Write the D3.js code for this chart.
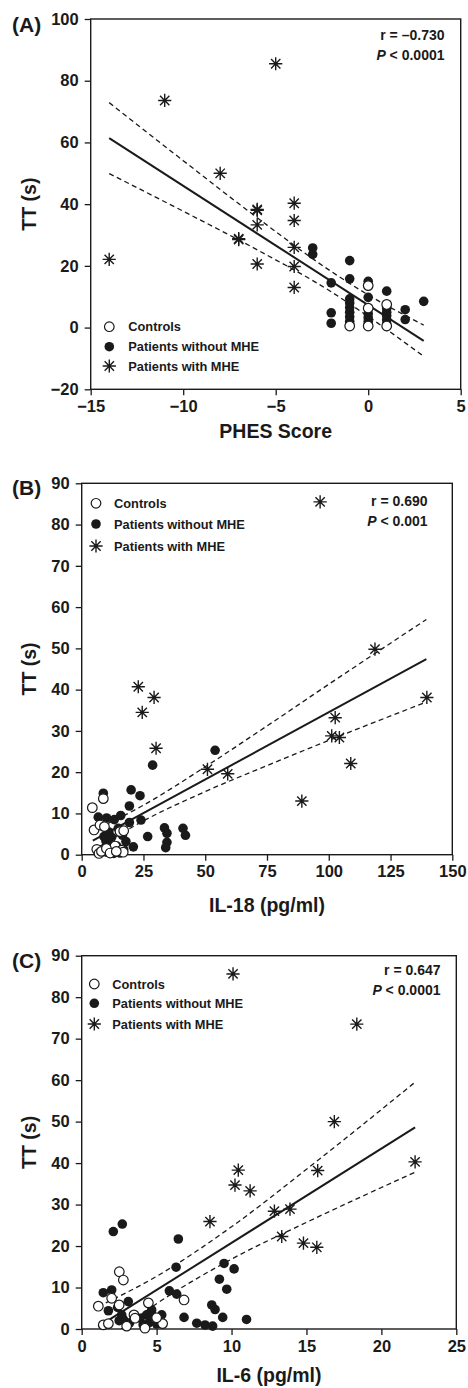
<!DOCTYPE html>
<html><head><meta charset="utf-8">
<script src="https://cdn.jsdelivr.net/npm/d3@7"></script>
<style>
html,body{margin:0;padding:0;background:#fff;}
svg text{font-family:"Liberation Sans",Arial,Helvetica,sans-serif;font-weight:bold;fill:#1a1a1a;}
</style></head>
<body>
<script>
// ---------- DATA ----------
// Panel A: PHES score vs TT (s)
const aCtrlX = [0,0,0,1,1,-1];
const aCtrlY = [13.6,6.3,0.5,7.5,0.5,0.5];
const aNoX = [-3,-3,-2,-2,-2,-1,-1,-1,-1,-1,-1,-1,-1,-1,0,0,0,0,0,0,1,1,1,1,1,1,1,2,2,3];
const aNoY = [25.8,23.7,14.5,4.8,1.4,21.7,15.8,9.3,8,6.5,5,3.5,2,1,15,9.8,4.5,3.2,2,1,11.8,6.2,5,3.8,2.5,1.2,0.4,5.8,2.6,8.5];
const aMheX = [-14,-11,-8,-5,-7,-7,-6,-6,-6,-6,-4,-4,-4,-4,-4];
const aMheY = [22.1,73.6,50,85.5,28.5,28.8,38.3,38.0,33.3,20.6,40.3,34.7,26,19.8,13];
const aFitX = [-14,3];
const aFitY = [61.4,-4.3];
const aBandX = [-14,-10,-6,-2,0,3];
const aUpperY = [72.9,54.1,35.6,18.2,10.6,0.8];
const aLowerY = [49.9,37.7,25.2,11.6,3.6,-9.3];
const aXTicks = [-15,-10,-5,0,5];
const aYTicks = [-20,0,20,40,60,80,100];

// Panel B: IL-18 (pg/ml) vs TT (s)
const bCtrlX = [8.75,4.3,5,7.4,9.2,6.1,7,13.5,16.2,15.5,16.8,8,10,11.5,14,17];
const bCtrlY = [13.6,11.4,6,7.2,6.8,1.3,0.3,2.1,1.1,5.6,0.6,0.8,1.5,0.4,0.8,5.8];
const bNoX = [54,28.7,20,23.6,8.75,19.3,6.7,10.1,13.2,15.8,24,19.3,26.7,33.5,34.5,34.5,34,41,42,15.5,9,10.1,11.5,12.8,14.2,15.5,17.9,20.9,9.8,12.1,14.8,10,13,17,11,16.5];
const bNoY = [25.3,21.7,15.7,14.3,14.9,11.8,9.1,8.9,8.5,9.5,8.4,7.8,4.4,6.5,5.2,3,1.7,6.4,4.7,6,4.4,1.6,2.8,1.1,2.1,0.4,3.2,1.9,3.3,4.2,6.4,0.6,0.3,1.2,5.5,4.7];
const bMheX = [96.5,118.7,22.9,29.3,24.5,30.1,50.9,59.1,102.6,101.2,104.3,108.9,89.1,139.7];
const bMheY = [85.5,49.8,40.7,38.1,34.5,25.8,20.7,19.6,33.2,28.8,28.4,22.1,13.0,38.1];
const bFitX = [4.5,139.5];
const bFitY = [3.4,47.4];
const bBandX = [4.5,25,50,75,100,139.5];
const bUpperY = [5.8,12.0,21.3,31.2,41.3,57.0];
const bLowerY = [1.0,8.2,15.3,21.6,27.7,37.0];
const bXTicks = [0,25,50,75,100,125,150];
const bYTicks = [0,10,20,30,40,50,60,70,80,90];

// Panel C: IL-6 (pg/ml) vs TT (s)
const cCtrlX = [2.51,2.78,1.11,2.0,6.83,4.45,3.49,3.56,1.44,1.78,3.0,4.22,5.4,5.0,2.5];
const cCtrlY = [13.8,11.8,5.5,7.4,7.0,6.3,3.4,2.6,1.0,1.3,0.7,0.2,1.3,2.7,5.8];
const cNoX = [2.11,2.71,6.45,6.3,9.5,10.17,9.19,9.68,5.85,6.34,8.68,8.9,9.41,11.0,6.83,7.68,8.23,8.74,1.44,2.0,1.78,3.11,2.4,4.67,4.34,5.34,4.45,2.67,2.78,3.9,4.1,4.8,3.2,2.5,5.0];
const cNoY = [23.5,25.3,21.7,14.9,15.8,14.5,12.0,9.6,9.2,8.4,5.8,4.7,2.8,2.3,2.8,1.4,0.96,0.7,8.75,9.4,4.4,6.6,5.2,4.6,3.4,3.4,1.4,3.4,2.3,2.6,1.0,3.0,1.5,2.0,1.2];
const cMheX = [10.1,18.36,16.86,22.25,10.45,10.23,11.24,15.75,12.86,13.9,8.56,13.35,14.8,15.69];
const cMheY = [85.6,73.5,50,40.3,38.3,34.7,33.3,38.2,28.4,28.9,25.9,22.3,20.7,19.7];
const cFitX = [1.1,22.25];
const cFitY = [0.55,48.6];
const cBandX = [1.1,5,10,15,22.25];
const cUpperY = [5.4,12.7,24.65,38.5,59.5];
const cLowerY = [-4.3,6.1,16.85,25.7,37.8];
const cXTicks = [0,5,10,15,20,25];
const cYTicks = [0,10,20,30,40,50,60,70,80,90];

const legendLabels = ["Controls","Patients without MHE","Patients with MHE"];

// ---------- DRAW ----------
const svg = d3.select("body").append("svg").attr("width",468).attr("height",1388);
const INK = "#1a1a1a";
const starPath = (s) => { const d = s*0.707;
  return `M0,${-s}L0,${s}M${-s},0L${s},0M${-d},${-d}L${d},${d}M${-d},${d}L${d},${-d}`; };
const R = 4.8, STAR = 6.6;

function zip(xs, ys){ return xs.map((v,i)=>[v, ys[i]]); }

function panel(cfg, idx){
  const {box} = cfg;
  const x = d3.scaleLinear().domain(cfg.xDomain).range([box.l, box.r]);
  const y = d3.scaleLinear().domain(cfg.yDomain).range([box.b, box.t]);
  const g = svg.append("g");
  const clipId = "clip"+idx;
  svg.append("clipPath").attr("id",clipId).append("rect")
    .attr("x",box.l).attr("y",box.t).attr("width",box.r-box.l).attr("height",box.b-box.t);

  // axes
  const fmt = d3.format("d");
  const xa = g.append("g").attr("transform",`translate(0,${box.b})`)
    .call(d3.axisBottom(x).tickValues(cfg.xTicks).tickFormat(fmt).tickSize(6).tickPadding(5));
  const ya = g.append("g").attr("transform",`translate(${box.l},0)`)
    .call(d3.axisLeft(y).tickValues(cfg.yTicks).tickFormat(fmt).tickSize(6).tickPadding(6));
  [xa,ya].forEach(a=>{
    a.select(".domain").remove();
    a.selectAll(".tick line").attr("stroke",INK).attr("stroke-width",1.3);
    a.selectAll(".tick text").attr("font-size",16.5).attr("fill",INK)
      .style("font-family","'Liberation Sans',Arial,sans-serif").style("font-weight","bold");
  });
  g.append("rect").attr("x",box.l).attr("y",box.t).attr("width",box.r-box.l).attr("height",box.b-box.t)
    .attr("fill","none").attr("stroke",INK).attr("stroke-width",1.4);

  // labels
  g.append("text").attr("x",12).attr("y",cfg.labelY).attr("font-size",21).text(cfg.label);
  g.append("text").attr("x",(box.l+box.r)/2).attr("y",cfg.xTitleY).attr("text-anchor","middle")
    .attr("font-size",19.5).text(cfg.xTitle);
  g.append("text").attr("transform",`translate(36,${(box.t+box.b)/2}) rotate(-90)`)
    .attr("text-anchor","middle").attr("font-size",19.5).text("TT (s)");

  // fit and bands
  const pg = g.append("g").attr("clip-path",`url(#${clipId})`);
  const line = d3.line().x(d=>x(d[0])).y(d=>y(d[1]));
  const curve = d3.line().x(d=>x(d[0])).y(d=>y(d[1])).curve(d3.curveMonotoneX);
  pg.append("path").attr("d",line(zip(cfg.fitX,cfg.fitY))).attr("fill","none").attr("stroke",INK).attr("stroke-width",2);
  [cfg.upperY,cfg.lowerY].forEach(ys=>{
    pg.append("path").attr("d",curve(zip(cfg.bandX,ys))).attr("fill","none").attr("stroke",INK)
      .attr("stroke-width",1.3).attr("stroke-dasharray","5,3.5");
  });

  // points
  g.append("g").selectAll("circle").data(zip(cfg.noX,cfg.noY)).join("circle")
    .attr("cx",d=>x(d[0])).attr("cy",d=>y(d[1])).attr("r",R).attr("fill",INK);
  g.append("g").selectAll("circle").data(zip(cfg.ctrlX,cfg.ctrlY)).join("circle")
    .attr("cx",d=>x(d[0])).attr("cy",d=>y(d[1])).attr("r",R).attr("fill","#fff").attr("stroke",INK).attr("stroke-width",1.2);
  g.append("g").selectAll("path").data(zip(cfg.mheX,cfg.mheY)).join("path")
    .attr("transform",d=>`translate(${x(d[0])},${y(d[1])})`).attr("d",starPath(STAR))
    .attr("fill","none").attr("stroke",INK).attr("stroke-width",1.4);

  // legend
  const L = cfg.legend;
  g.append("circle").attr("cx",L.sx).attr("cy",L.rows[0]).attr("r",R).attr("fill","#fff").attr("stroke",INK).attr("stroke-width",1.2);
  g.append("circle").attr("cx",L.sx).attr("cy",L.rows[1]).attr("r",R).attr("fill",INK);
  g.append("path").attr("transform",`translate(${L.sx},${L.rows[2]})`).attr("d",starPath(STAR))
    .attr("fill","none").attr("stroke",INK).attr("stroke-width",1.4);
  legendLabels.forEach((t,i)=>{
    g.append("text").attr("x",L.tx).attr("y",L.rows[i]+4.6).attr("font-size",12.8).text(t);
  });

  // stats
  const S = cfg.stats;
  g.append("text").attr("x",S.x).attr("y",S.y1).attr("text-anchor","end").attr("font-size",14).text(cfg.rText);
  const p = g.append("text").attr("x",S.x).attr("y",S.y2).attr("text-anchor","end").attr("font-size",14);
  p.append("tspan").attr("font-style","italic").text("P");
  p.append("tspan").text(" < " + cfg.pText);
}

panel({box:{l:90.7,r:460.7,t:19,b:389.3}, xDomain:[-15,5], yDomain:[-20,100],
  xTicks:aXTicks, yTicks:aYTicks, label:"(A)", labelY:31.5, xTitle:"PHES Score", xTitleY:438.3,
  ctrlX:aCtrlX, ctrlY:aCtrlY, noX:aNoX, noY:aNoY, mheX:aMheX, mheY:aMheY,
  fitX:aFitX, fitY:aFitY, bandX:aBandX, upperY:aUpperY, lowerY:aLowerY,
  legend:{sx:109.3, tx:128.3, rows:[326.7,346.7,366]},
  stats:{x:444.5, y1:40, y2:60}, rText:"r = \u20130.730", pText:"0.0001"}, 0);

panel({box:{l:81.7,r:452.3,t:483.3,b:854.7}, xDomain:[0,150], yDomain:[0,90],
  xTicks:bXTicks, yTicks:bYTicks, label:"(B)", labelY:495, xTitle:"IL-18 (pg/ml)", xTitleY:911.7,
  ctrlX:bCtrlX, ctrlY:bCtrlY, noX:bNoX, noY:bNoY, mheX:bMheX, mheY:bMheY,
  fitX:bFitX, fitY:bFitY, bandX:bBandX, upperY:bUpperY, lowerY:bLowerY,
  legend:{sx:96, tx:114, rows:[503.3,524,546]},
  stats:{x:427.5, y1:505.7, y2:525.7}, rText:"r = 0.690", pText:"0.001"}, 1);

panel({box:{l:81.7,r:456.3,t:955.7,b:1329}, xDomain:[0,25], yDomain:[0,90],
  xTicks:cXTicks, yTicks:cYTicks, label:"(C)", labelY:968, xTitle:"IL-6 (pg/ml)", xTitleY:1381.7,
  ctrlX:cCtrlX, ctrlY:cCtrlY, noX:cNoX, noY:cNoY, mheX:cMheX, mheY:cMheY,
  fitX:cFitX, fitY:cFitY, bandX:cBandX, upperY:cUpperY, lowerY:cLowerY,
  legend:{sx:94.3, tx:112.3, rows:[984,1003.3,1024]},
  stats:{x:440.5, y1:975, y2:995}, rText:"r = 0.647", pText:"0.0001"}, 2);
</script>
</body></html>
